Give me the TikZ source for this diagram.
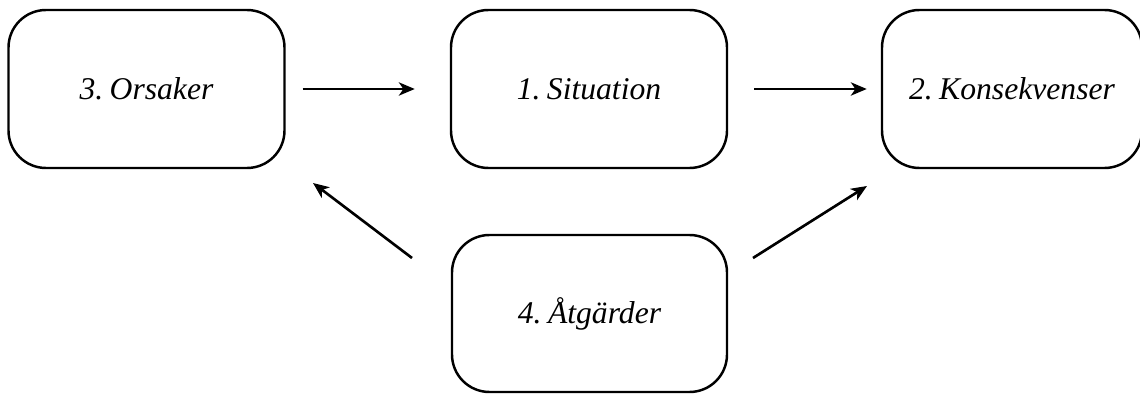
\documentclass[tikz,border=0pt]{standalone}
\usepackage{fontspec}
\setmainfont{Liberation Serif}
\usetikzlibrary{arrows.meta, positioning}

\newcommand{\stagefont}{\fontsize{18}{21}\selectfont\itshape\spaceskip=0.12em\relax}

\tikzset{
	stage/.style={draw, line width=1.4pt, rounded corners=0.75cm, minimum width=5.52cm, minimum height=3.16cm, font=\stagefont},
	arr/.style={-{Stealth[length=9pt, width=7.5pt, inset=2.5pt]}, line width=1.5pt}
}

\begin{document}
\begin{tikzpicture}
			\useasboundingbox (0, 0) rectangle (22.8, 7.88);
			
			\node[stage] (ors) at (2.93, 6.10) {3. Orsaker};
			\node[stage] (sit) at (11.78, 6.10) {1. Situation};
			\node[stage, minimum width=5.2cm] (kon) at (20.24, 6.10) {2. Konsekvenser};
			\node[stage, minimum width=5.5cm, minimum height=3.14cm] (atg) at (11.79, 1.61) {4. Åtgärder};
			
			\coordinate (atgL) at (8.24, 2.72);
			\coordinate (orsIn) at (6.26, 4.22);
			\coordinate (atgR) at (15.06, 2.72);
			\coordinate (konIn) at (17.34, 4.16);
			
			\draw[arr, shorten <=0.34cm, shorten >=0.70cm] (ors) -- (sit);
			\draw[arr, shorten <=0.52cm, shorten >=0.28cm] (sit) -- (kon);
			\draw[arr] (atgL) -- (orsIn);
			\draw[arr] (atgR) -- (konIn);
			
		\end{tikzpicture}
\end{document}
